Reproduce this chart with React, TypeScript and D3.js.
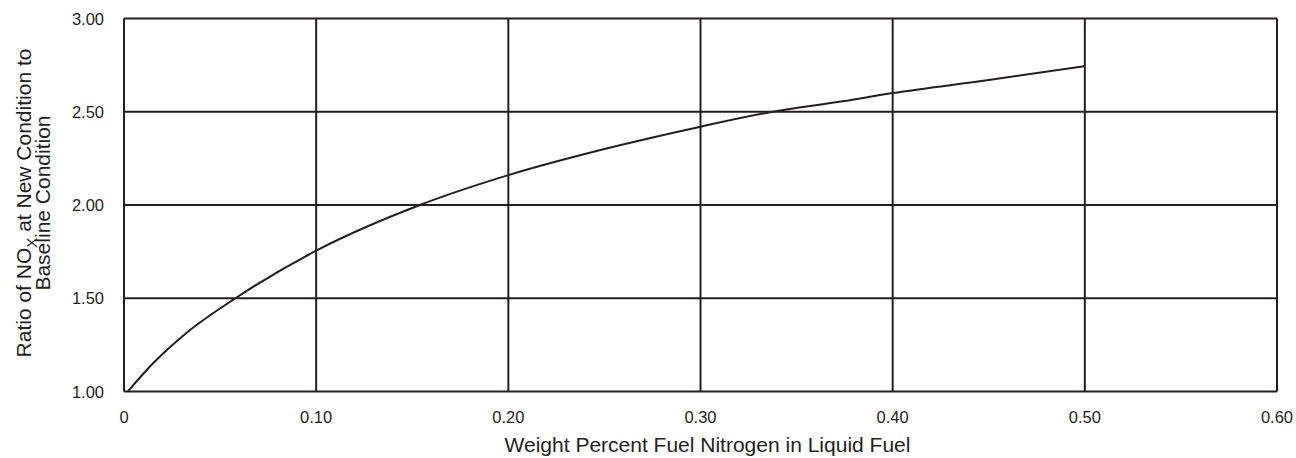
import React from 'react';
import * as d3 from 'd3';

// Values
const fuelNitrogen = [0.002, 0.015, 0.032, 0.058, 0.1, 0.154, 0.2, 0.25, 0.3, 0.3375, 0.374, 0.4, 0.45, 0.5];
const noxRatio = [1.0, 1.15, 1.31, 1.5, 1.755, 2.0, 2.16, 2.3, 2.42, 2.5, 2.556, 2.6, 2.67, 2.745];

const xTicks = [0, 0.1, 0.2, 0.3, 0.4, 0.5, 0.6];
const xTickLabels = ['0', '0.10', '0.20', '0.30', '0.40', '0.50', '0.60'];
const yTicks = [1.0, 1.5, 2.0, 2.5, 3.0];
const yTickLabels = ['1.00', '1.50', '2.00', '2.50', '3.00'];

const width = 1296;
const height = 458;
const margin = { left: 124, right: 19, top: 18.5, bottom: 66.5 };
const ink = '#231f20';
const font = '"Liberation Sans", Arial, Helvetica, sans-serif';

const App = () => {
  const x = d3.scaleLinear().domain([0, 0.6]).range([margin.left, width - margin.right]);
  const y = d3.scaleLinear().domain([1, 3]).range([height - margin.bottom, margin.top]);

  const points = fuelNitrogen.map((d, i) => [d, noxRatio[i]] as [number, number]);
  const line = d3.line<[number, number]>()
    .x(d => x(d[0]))
    .y(d => y(d[1]))
    .curve(d3.curveMonotoneX);

  return (
    <svg width={width} height={height}
      style={{ position: 'absolute', left: 0, top: 0, display: 'block', background: '#fff' }}
      fontFamily={font}>
      {/* grid */}
      {yTicks.map(t => (
        <line key={'gy' + t} x1={x(0)} x2={x(0.6)} y1={y(t)} y2={y(t)} stroke={ink} strokeWidth={2} />
      ))}
      {xTicks.map(t => (
        <line key={'gx' + t} x1={x(t)} x2={x(t)} y1={y(1)} y2={y(3)} stroke={ink} strokeWidth={2} />
      ))}

      {/* curve */}
      <path d={line(points) ?? ''} fill="none" stroke={ink} strokeWidth={2} />

      {/* y tick labels */}
      {yTicks.map((t, i) => (
        <text key={'ly' + t} x={104} y={y(t)} textAnchor="end" dominantBaseline="central"
          fontSize={16.5} fill={ink}>{yTickLabels[i]}</text>
      ))}
      {/* x tick labels */}
      {xTicks.map((t, i) => (
        <text key={'lx' + t} x={x(t)} y={423} textAnchor="middle" fontSize={16.5} fill={ink}>
          {xTickLabels[i]}
        </text>
      ))}

      {/* axis titles */}
      <text x={707.5} y={452} textAnchor="middle" fontSize={21} fill={ink}>
        Weight Percent Fuel Nitrogen in Liquid Fuel
      </text>
      <g transform="translate(31,203) rotate(-90)">
        <text x={0} y={0} textAnchor="middle" fontSize={21} fill={ink}>
          Ratio of NO<tspan fontSize={15} dy={6}>X</tspan><tspan dy={-6}> at New Condition to</tspan>
        </text>
        <text x={0} y={19} textAnchor="middle" fontSize={21} fill={ink}>Baseline Condition</text>
      </g>
    </svg>
  );
};

export default App;
